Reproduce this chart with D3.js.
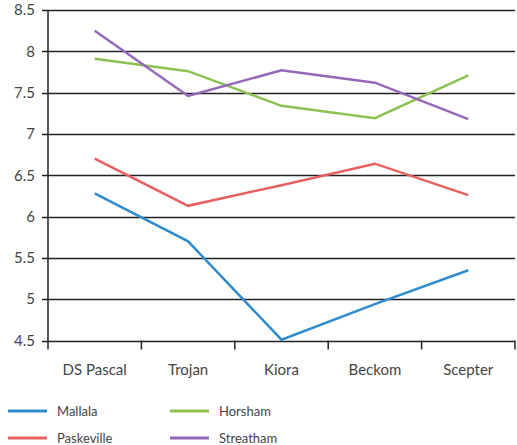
<!DOCTYPE html>
<html>
<head>
<meta charset="utf-8">
<script src="https://cdn.jsdelivr.net/npm/d3@7"></script>
<style>
  html, body { margin: 0; padding: 0; background: #fff; }
  svg { display: block; font-family: "Lato", "Open Sans", sans-serif; }
</style>
</head>
<body>
<svg id="chart" width="517" height="445"></svg>
<script>
// Varieties along the x axis
const categories = ["DS Pascal", "Trojan", "Kiora", "Beckom", "Scepter"];

// Yield per site
const mallala    = [6.28, 5.70, 4.51, 4.94, 5.35];
const paskeville = [6.70, 6.13, 6.38, 6.64, 6.26];
const horsham    = [7.91, 7.76, 7.34, 7.19, 7.71];
const streatham  = [8.25, 7.46, 7.77, 7.62, 7.18];

const seriesNames  = ["Mallala", "Paskeville", "Horsham", "Streatham"];
const seriesColors = ["#2f8ccf", "#e66061", "#8dc153", "#9468b8"];
const seriesValues = [mallala, paskeville, horsham, streatham];

const yTicks = [4.5, 5, 5.5, 6, 6.5, 7, 7.5, 8, 8.5];
const yTickLabels = ["4.5", "5", "5.5", "6", "6.5", "7", "7.5", "8", "8.5"];

const svg = d3.select("#chart");
const plotLeft = 48, plotRight = 515, plotTop = 10, plotBottom = 340.5;

const x = d3.scaleBand().domain(categories).range([plotLeft, plotRight]);
const y = d3.scaleLinear().domain([4.5, 8.5]).range([plotBottom, plotTop]);

// Horizontal gridlines
svg.append("g")
  .selectAll("line")
  .data(yTicks)
  .join("line")
  .attr("x1", plotLeft - 6)
  .attr("x2", plotRight)
  .attr("y1", d => Math.round(y(d)) + 0.5)
  .attr("y2", d => Math.round(y(d)) + 0.5)
  .attr("stroke", "#222")
  .attr("stroke-width", 1.5);

// Y axis labels
svg.append("g")
  .selectAll("text")
  .data(yTicks)
  .join("text")
  .attr("x", plotLeft - 13)
  .attr("y", d => y(d))
  .attr("dy", "0.35em")
  .attr("text-anchor", "end")
  .attr("font-size", 15)
  .attr("fill", "#444")
  .text((d, i) => yTickLabels[i]);

// Vertical axis line
svg.append("line")
  .attr("x1", plotLeft).attr("x2", plotLeft)
  .attr("y1", plotTop).attr("y2", plotBottom + 9)
  .attr("stroke", "#222").attr("stroke-width", 1.5);

// X axis ticks at band boundaries
const bounds = categories.map(c => x(c)).concat([x(categories[categories.length - 1]) + x.bandwidth()]);
svg.append("g")
  .selectAll("line")
  .data(bounds.slice(1))
  .join("line")
  .attr("x1", d => d).attr("x2", d => d)
  .attr("y1", plotBottom).attr("y2", plotBottom + 9)
  .attr("stroke", "#222").attr("stroke-width", 1.5);

// X axis labels
svg.append("g")
  .selectAll("text")
  .data(categories)
  .join("text")
  .attr("x", d => x(d) + x.bandwidth() / 2)
  .attr("y", 370)
  .attr("dy", "0.35em")
  .attr("text-anchor", "middle")
  .attr("font-size", 15)
  .attr("fill", "#444")
  .text(d => d);

// Series lines
const line = d3.line()
  .x((d, i) => x(categories[i]) + x.bandwidth() / 2)
  .y(d => y(d));

svg.append("g")
  .selectAll("path")
  .data(seriesValues)
  .join("path")
  .attr("d", d => line(d))
  .attr("fill", "none")
  .attr("stroke", (d, i) => seriesColors[i])
  .attr("stroke-width", 2.5);

// Legend: two columns, two rows
const legendPos = [[8, 411], [8, 438], [170, 411], [170, 438]];
const legend = svg.append("g")
  .selectAll("g")
  .data(seriesNames)
  .join("g")
  .attr("transform", (d, i) => `translate(${legendPos[i][0]},${legendPos[i][1]})`);

legend.append("line")
  .attr("x1", 0).attr("x2", 39)
  .attr("y1", 0).attr("y2", 0)
  .attr("stroke", (d, i) => seriesColors[i])
  .attr("stroke-width", 3);

legend.append("text")
  .attr("x", 49)
  .attr("y", 0)
  .attr("dy", "0.35em")
  .attr("font-size", 13)
  .attr("fill", "#444")
  .text(d => d);
</script>
</body>
</html>
